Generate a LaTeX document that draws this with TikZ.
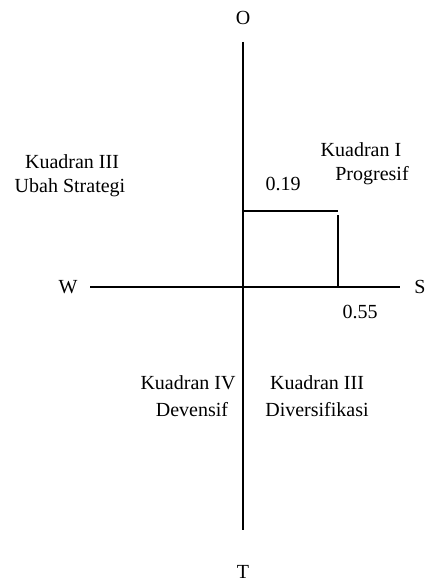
\documentclass[tikz,border=0pt]{standalone}
\usepackage{fontspec}
\setmainfont{Liberation Serif}
\usepackage{tikz}

\begin{document}
\begin{tikzpicture}
        [
            x = 1pt, y = -1pt,
            axis/.style = {line width = 1.8pt},
            lbl/.style = {inner sep = 0pt, font = \fontsize{20}{24}\selectfont}
        ]
        \useasboundingbox (0,0) rectangle (427,583);

        % axes
        \coordinate (top) at (243,42);
        \coordinate (bottom) at (243,530);
        \coordinate (left) at (90,287);
        \coordinate (right) at (400,287);
        \draw[axis] (top) -- (bottom);
        \draw[axis] (left) -- (right);

        \node[lbl] (O) at (243,18) {O};
        \node[lbl] (T) at (243,572) {T};
        \node[lbl] (W) at (68,287) {W};
        \node[lbl] (S) at (420,287) {S};

        % position box
        \coordinate (y019) at (243,211);
        \coordinate (corner) at (338,211);
        \coordinate (x055a) at (338,215);
        \coordinate (x055) at (338,287);
        \draw[axis] (y019) -- (corner);
        \draw[axis] (x055a) -- (x055);
        \node[lbl] (v019) at (283,184) {0.19};
        \node[lbl] (v055) at (360,312) {0.55};

        % quadrants
        \node[lbl] (k1) at (361,150) {Kuadran I};
        \node[lbl] (k1b) at (372,176) {Progresif};
        \node[lbl] (k3) at (72,162) {Kuadran III};
        \node[lbl] (k3b) at (70,188) {Ubah Strategi};
        \node[lbl] (k4) at (188,383) {Kuadran IV};
        \node[lbl] (k4b) at (192,410) {Devensif};
        \node[lbl] (k2) at (317,383) {Kuadran III};
        \node[lbl] (k2b) at (317,410) {Diversifikasi};
\end{tikzpicture}
\end{document}
